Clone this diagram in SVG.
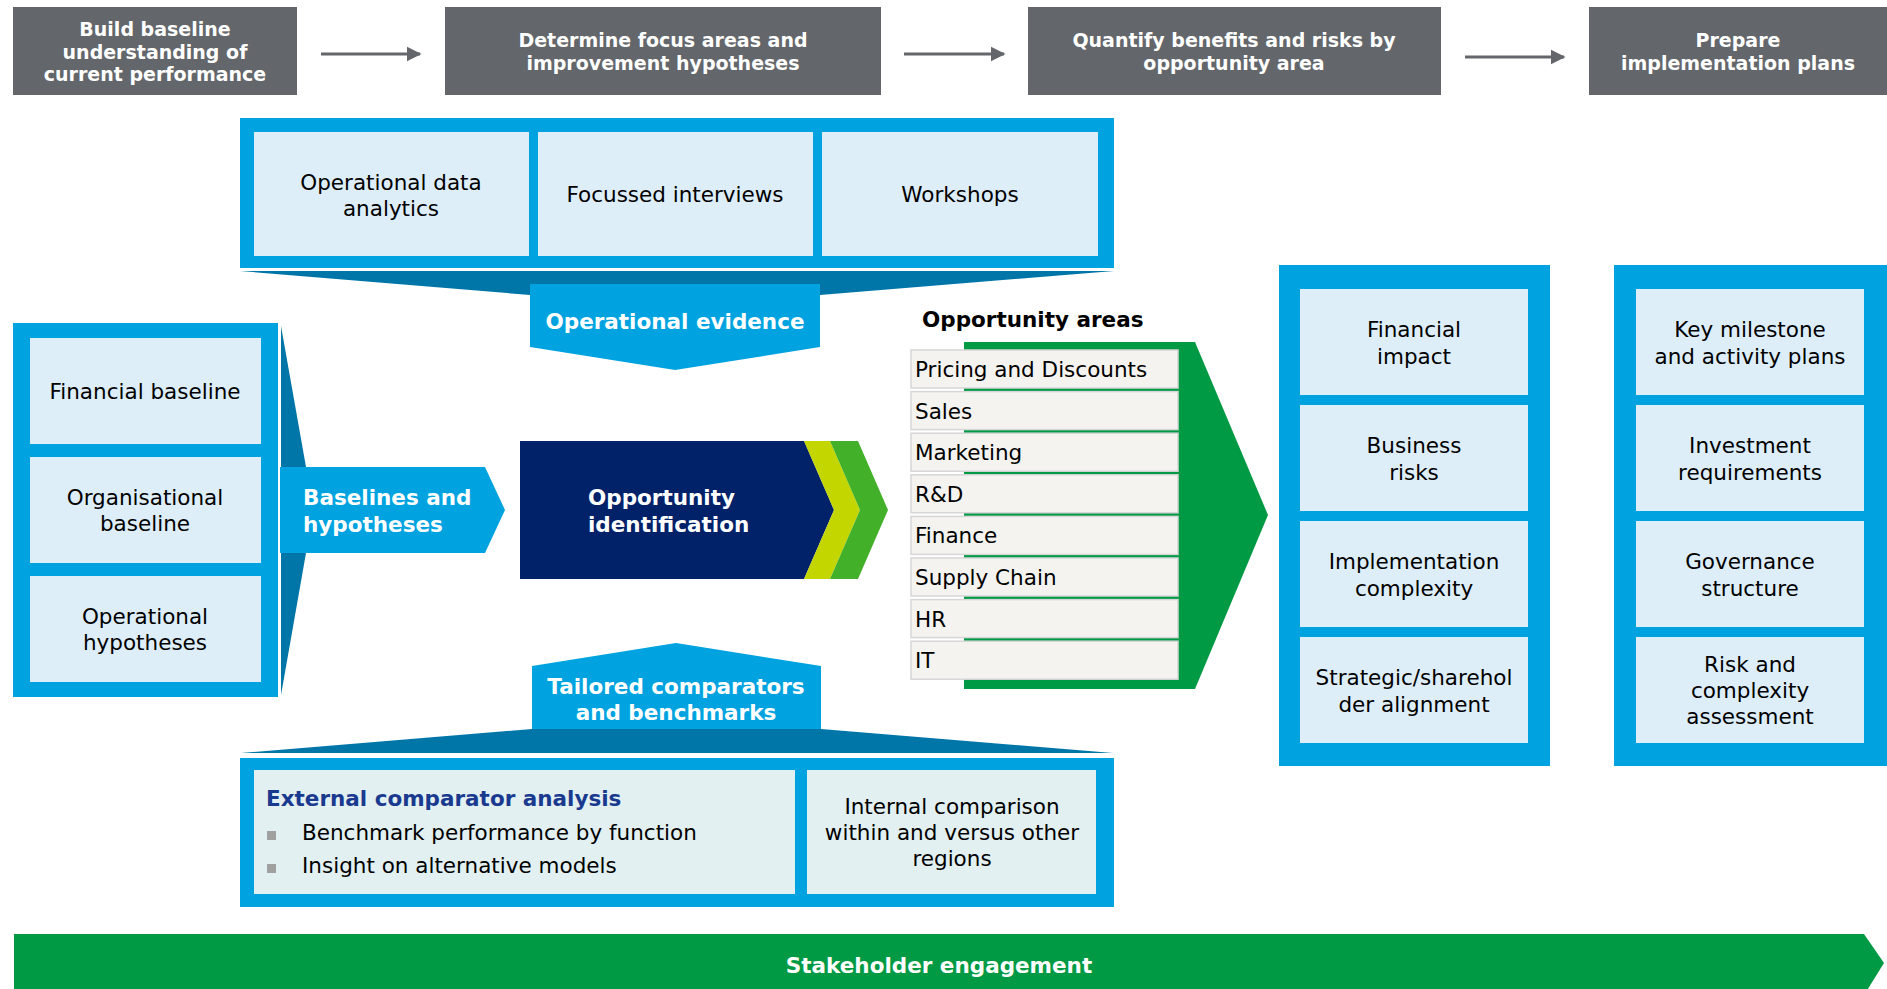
<svg xmlns="http://www.w3.org/2000/svg" width="1887" height="989" viewBox="0 0 1887 989">
<style>
text{font-family:"DejaVu Sans",Verdana,sans-serif}
.hdr{fill:#63666a}
.hdrt{fill:#fff;font-weight:bold;font-size:19px;text-anchor:middle}
.pan{fill:#00a3e0}
.inb{fill:#ddeef9}
.inb2{fill:#e2f0f2}
.fan{fill:#0076a8}
.t{fill:#000;font-size:21.5px;text-anchor:middle}
.tl{fill:#000;font-size:21.5px}
.bw{fill:#fff;font-size:21.5px;font-weight:bold}
.row{fill:#f4f3ef;stroke:#d6d6d6;stroke-width:1.5}
.grn{fill:#009a44}
.conn{stroke:#63666a;stroke-width:3;fill:none}
</style>
<defs>
<marker id="ah" viewBox="0 0 10 10" refX="9" refY="5" markerWidth="5" markerHeight="5.2" orient="auto" markerUnits="strokeWidth">
<path d="M0,0 L10,5 L0,10 z" fill="#63666a"/>
</marker>
</defs>

<g id="step1"><rect class="hdr" x="13" y="7" width="284" height="88"/>
<text class="hdrt" x="155" y="36">Build baseline</text>
<text class="hdrt" x="155" y="59">understanding of</text>
<text class="hdrt" x="155" y="81">current performance</text></g>
<g id="step2"><rect class="hdr" x="445" y="7" width="436" height="88"/>
<text class="hdrt" x="663" y="47">Determine focus areas and</text>
<text class="hdrt" x="663" y="70">improvement hypotheses</text></g>
<g id="step3"><rect class="hdr" x="1028" y="7" width="413" height="88"/>
<text class="hdrt" x="1234" y="47">Quantify benefits and risks by</text>
<text class="hdrt" x="1234" y="70">opportunity area</text></g>
<g id="step4"><rect class="hdr" x="1589" y="7" width="298" height="88"/>
<text class="hdrt" x="1738" y="47">Prepare</text>
<text class="hdrt" x="1738" y="70">implementation plans</text></g>

<g id="connectors">
<line class="conn" x1="321" y1="54" x2="420" y2="54" marker-end="url(#ah)"/>
<line class="conn" x1="904" y1="54" x2="1004" y2="54" marker-end="url(#ah)"/>
<line class="conn" x1="1465" y1="57" x2="1564" y2="57" marker-end="url(#ah)"/>
</g>

<g id="evidence-panel">
<rect class="pan" x="240" y="118" width="874" height="150"/>
<rect class="inb" x="254" y="132" width="275" height="124"/>
<rect class="inb" x="538" y="132" width="275" height="124"/>
<rect class="inb" x="822" y="132" width="276" height="124"/>
<text class="t" x="391" y="190">Operational data</text>
<text class="t" x="391" y="216">analytics</text>
<text class="t" x="675" y="202">Focussed interviews</text>
<text class="t" x="960" y="202">Workshops</text>
</g>
<g id="operational-evidence">
<polygon class="fan" points="240,271 1114,271 820,295 530,295"/>
<polygon class="pan" points="530,284 820,284 820,347 675,370 530,347"/>
<text class="bw" x="675" y="329" text-anchor="middle">Operational evidence</text>
</g>

<g id="baseline-panel">
<rect class="pan" x="13" y="323" width="265" height="374"/>
<rect class="inb" x="30" y="338" width="231" height="106"/>
<rect class="inb" x="30" y="457" width="231" height="106"/>
<rect class="inb" x="30" y="576" width="231" height="106"/>
<text class="t" x="145" y="399">Financial baseline</text>
<text class="t" x="145" y="505">Organisational</text>
<text class="t" x="145" y="531">baseline</text>
<text class="t" x="145" y="624">Operational</text>
<text class="t" x="145" y="650">hypotheses</text>
</g>
<g id="baselines-hypotheses">
<polygon class="fan" points="281,326 306,467 306,553 281,695"/>
<polygon class="pan" points="280,467 485,467 505,510 485,553 280,553"/>
<text class="bw" x="303" y="505">Baselines and</text>
<text class="bw" x="303" y="532">hypotheses</text>
</g>

<g id="opportunity-identification">
<polygon fill="#012169" points="520,441 804,441 834,510 804,579 520,579"/>
<polygon fill="#c4d600" points="804,441 830,441 860,510 830,579 804,579 834,510"/>
<polygon fill="#43b02a" points="830,441 858,441 888,510 858,579 830,579 860,510"/>
<text class="bw" x="588" y="505">Opportunity</text>
<text class="bw" x="588" y="532">identification</text>
</g>

<g id="tailored-comparators">
<polygon class="fan" points="532,729 821,729 1113,753 241,753"/>
<polygon class="pan" points="532,666 676,643 821,666 821,729 532,729"/>
<text class="bw" x="676" y="694" text-anchor="middle">Tailored comparators</text>
<text class="bw" x="676" y="720" text-anchor="middle">and benchmarks</text>
</g>
<g id="comparator-panel">
<rect class="pan" x="240" y="758" width="874" height="149"/>
<rect class="inb2" x="254" y="770" width="541" height="124"/>
<rect class="inb2" x="807" y="770" width="289" height="124"/>
<text x="266" y="806" font-size="21.5" font-weight="bold" fill="#1a3a8f">External comparator analysis</text>
<rect x="267" y="831" width="9" height="9" fill="#a0a0a0"/>
<rect x="267" y="864" width="9" height="9" fill="#a0a0a0"/>
<text class="tl" x="302" y="840">Benchmark performance by function</text>
<text class="tl" x="302" y="873">Insight on alternative models</text>
<text class="t" x="952" y="814">Internal comparison</text>
<text class="t" x="952" y="840">within and versus other</text>
<text class="t" x="952" y="866">regions</text>
</g>

<g id="opportunity-areas">
<text x="922" y="327" font-size="21.5" font-weight="bold" fill="#000">Opportunity areas</text>
<polygon class="grn" points="964,342 1195,342 1268,515 1195,689 964,689"/>
<rect class="row" x="911" y="350" width="267" height="38"/>
<rect class="row" x="911" y="391.6" width="267" height="38"/>
<rect class="row" x="911" y="433.2" width="267" height="38"/>
<rect class="row" x="911" y="474.8" width="267" height="38"/>
<rect class="row" x="911" y="516.4" width="267" height="38"/>
<rect class="row" x="911" y="558" width="267" height="38"/>
<rect class="row" x="911" y="599.6" width="267" height="38"/>
<rect class="row" x="911" y="641.2" width="267" height="38"/>
<text class="tl" x="915" y="377">Pricing and Discounts</text>
<text class="tl" x="915" y="418.6">Sales</text>
<text class="tl" x="915" y="460.2">Marketing</text>
<text class="tl" x="915" y="501.8">R&amp;D</text>
<text class="tl" x="915" y="543.4">Finance</text>
<text class="tl" x="915" y="585">Supply Chain</text>
<text class="tl" x="915" y="626.6">HR</text>
<text class="tl" x="915" y="668.2">IT</text>
</g>

<g id="quantify-panel">
<rect class="pan" x="1279" y="265" width="271" height="501"/>
<rect class="inb" x="1300" y="289" width="228" height="106"/>
<rect class="inb" x="1300" y="405" width="228" height="106"/>
<rect class="inb" x="1300" y="521" width="228" height="106"/>
<rect class="inb" x="1300" y="637" width="228" height="106"/>
<text class="t" x="1414" y="337">Financial</text>
<text class="t" x="1414" y="364">impact</text>
<text class="t" x="1414" y="453">Business</text>
<text class="t" x="1414" y="480">risks</text>
<text class="t" x="1414" y="569">Implementation</text>
<text class="t" x="1414" y="596">complexity</text>
<text class="t" x="1414" y="685">Strategic/sharehol</text>
<text class="t" x="1414" y="712">der alignment</text>
</g>

<g id="implementation-panel">
<rect class="pan" x="1614" y="265" width="273" height="501"/>
<rect class="inb" x="1636" y="289" width="228" height="106"/>
<rect class="inb" x="1636" y="405" width="228" height="106"/>
<rect class="inb" x="1636" y="521" width="228" height="106"/>
<rect class="inb" x="1636" y="637" width="228" height="106"/>
<text class="t" x="1750" y="337">Key milestone</text>
<text class="t" x="1750" y="364">and activity plans</text>
<text class="t" x="1750" y="453">Investment</text>
<text class="t" x="1750" y="480">requirements</text>
<text class="t" x="1750" y="569">Governance</text>
<text class="t" x="1750" y="596">structure</text>
<text class="t" x="1750" y="672">Risk and</text>
<text class="t" x="1750" y="698">complexity</text>
<text class="t" x="1750" y="724">assessment</text>
</g>

<g id="stakeholder-engagement">
<polygon class="grn" points="14,934 1864,934 1884,963 1866,992 14,992"/>
<text class="bw" x="939" y="973" text-anchor="middle">Stakeholder engagement</text>
</g>
</svg>
